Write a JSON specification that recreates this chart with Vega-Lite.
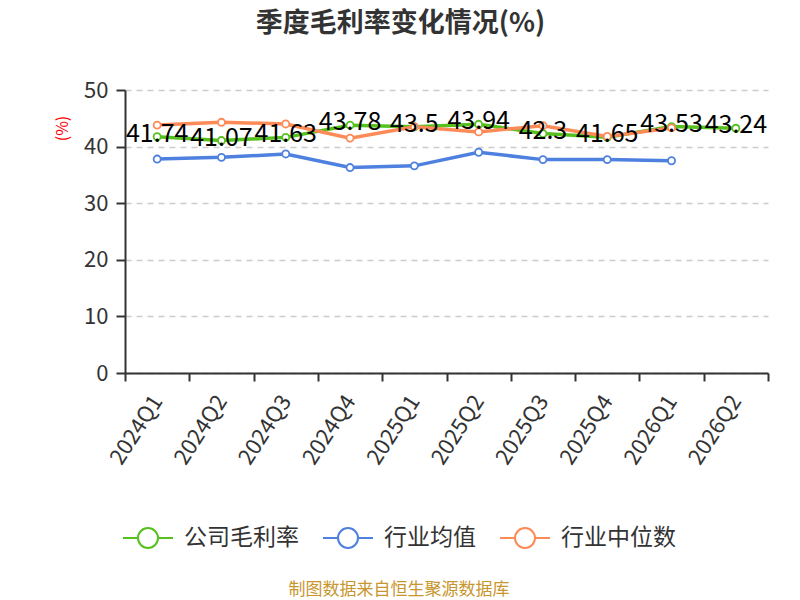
{
  "$schema": "https://vega.github.io/schema/vega-lite/v6.json",
  "width": 643,
  "height": 283,
  "autosize": "none",
  "padding": {"left": 125, "top": 90, "right": 32, "bottom": 227},
  "title": {
    "text": "季度毛利率变化情况(%)",
    "anchor": "middle",
    "dx": -46,
    "offset": 41,
    "fontSize": 27,
    "fontWeight": "bold",
    "color": "#333333"
  },
  "config": {
    "font": "Noto Sans CJK SC",
    "view": {"stroke": null}
  },
  "data": {
    "values": [
      {"quarter": "2024Q1", "series": "公司毛利率", "value": 41.74},
      {"quarter": "2024Q2", "series": "公司毛利率", "value": 41.07},
      {"quarter": "2024Q3", "series": "公司毛利率", "value": 41.63},
      {"quarter": "2024Q4", "series": "公司毛利率", "value": 43.78},
      {"quarter": "2025Q1", "series": "公司毛利率", "value": 43.5},
      {"quarter": "2025Q2", "series": "公司毛利率", "value": 43.94},
      {"quarter": "2025Q3", "series": "公司毛利率", "value": 42.3},
      {"quarter": "2025Q4", "series": "公司毛利率", "value": 41.65},
      {"quarter": "2026Q1", "series": "公司毛利率", "value": 43.53},
      {"quarter": "2026Q2", "series": "公司毛利率", "value": 43.24},
      {"quarter": "2024Q1", "series": "行业均值", "value": 37.8},
      {"quarter": "2024Q2", "series": "行业均值", "value": 38.1},
      {"quarter": "2024Q3", "series": "行业均值", "value": 38.7},
      {"quarter": "2024Q4", "series": "行业均值", "value": 36.3},
      {"quarter": "2025Q1", "series": "行业均值", "value": 36.6},
      {"quarter": "2025Q2", "series": "行业均值", "value": 39.0},
      {"quarter": "2025Q3", "series": "行业均值", "value": 37.7},
      {"quarter": "2025Q4", "series": "行业均值", "value": 37.7},
      {"quarter": "2026Q1", "series": "行业均值", "value": 37.5},
      {"quarter": "2024Q1", "series": "行业中位数", "value": 43.8},
      {"quarter": "2024Q2", "series": "行业中位数", "value": 44.3},
      {"quarter": "2024Q3", "series": "行业中位数", "value": 44.0},
      {"quarter": "2024Q4", "series": "行业中位数", "value": 41.5},
      {"quarter": "2025Q1", "series": "行业中位数", "value": 43.5},
      {"quarter": "2025Q2", "series": "行业中位数", "value": 42.6},
      {"quarter": "2025Q3", "series": "行业中位数", "value": 43.7},
      {"quarter": "2025Q4", "series": "行业中位数", "value": 41.8},
      {"quarter": "2026Q1", "series": "行业中位数", "value": 43.3}
    ]
  },
  "encoding": {
    "x": {
      "field": "quarter",
      "type": "ordinal",
      "scale": {
        "type": "band",
        "paddingInner": 0,
        "paddingOuter": 0,
        "domain": ["2024Q1", "2024Q2", "2024Q3", "2024Q4", "2025Q1", "2025Q2", "2025Q3", "2025Q4", "2026Q1", "2026Q2"]
      },
      "axis": {
        "title": null,
        "grid": false,
        "domainColor": "#333333",
        "domainWidth": 2,
        "tickColor": "#333333",
        "tickWidth": 2,
        "tickSize": 8,
        "tickBand": "extent",
        "labelAngle": -57,
        "labelAlign": "right",
        "labelBaseline": "middle",
        "labelFontSize": 22,
        "labelColor": "#333333",
        "labelPadding": 16
      }
    },
    "y": {
      "field": "value",
      "type": "quantitative",
      "scale": {"domain": [0, 50]},
      "axis": {
        "values": [0, 10, 20, 30, 40, 50],
        "title": "(%)",
        "titleColor": "#ff0000",
        "titleFontSize": 16,
        "titleFontWeight": "normal",
        "titleX": -63,
        "titleY": 38,
        "titleAlign": "center",
        "titleBaseline": "middle",
        "domainColor": "#333333",
        "domainWidth": 2,
        "tickColor": "#333333",
        "tickWidth": 2,
        "tickSize": 9,
        "labelFontSize": 22,
        "labelColor": "#333333",
        "labelPadding": 8,
        "gridColor": "#cccccc",
        "gridDash": [6, 5],
        "gridWidth": 1.5
      }
    },
    "color": {
      "field": "series",
      "type": "nominal",
      "scale": {
        "domain": ["公司毛利率", "行业均值", "行业中位数"],
        "range": ["#56c11e", "#4e80e0", "#fd8a57"]
      },
      "legend": {
        "orient": "none",
        "legendX": -3,
        "legendY": 422,
        "direction": "horizontal",
        "symbolType": "M-1,0L-0.4,0M0.4,0L1,0M0.4,0A0.4,0.4,0,1,1,-0.4,0A0.4,0.4,0,1,1,0.4,0Z",
        "symbolSize": 2500,
        "symbolStrokeWidth": 2,
        "symbolFillColor": "#ffffff",
        "labelFontSize": 23,
        "labelColor": "#333333",
        "labelOffset": 10,
        "columnPadding": 20,
        "title": "制图数据来自恒生聚源数据库",
        "titleOrient": "bottom",
        "titleAnchor": "middle",
        "titleLimit": 0,
        "titleFontSize": 17,
        "titleFontWeight": "normal",
        "titleColor": "#c8962e",
        "titlePadding": 30
      }
    }
  },
  "layer": [
    {
      "mark": {"type": "line", "strokeWidth": 3.5}
    },
    {
      "mark": {"type": "point", "filled": false, "fill": "#ffffff", "size": 50, "strokeWidth": 1.8, "opacity": 1}
    },
    {
      "transform": [{"filter": "datum.series === '公司毛利率'"}],
      "mark": {"type": "text", "fontSize": 25, "dy": -3, "color": "#000000"},
      "encoding": {
        "text": {"field": "value", "type": "quantitative", "format": "~g"},
        "color": {"value": "#000000"}
      }
    }
  ]
}
